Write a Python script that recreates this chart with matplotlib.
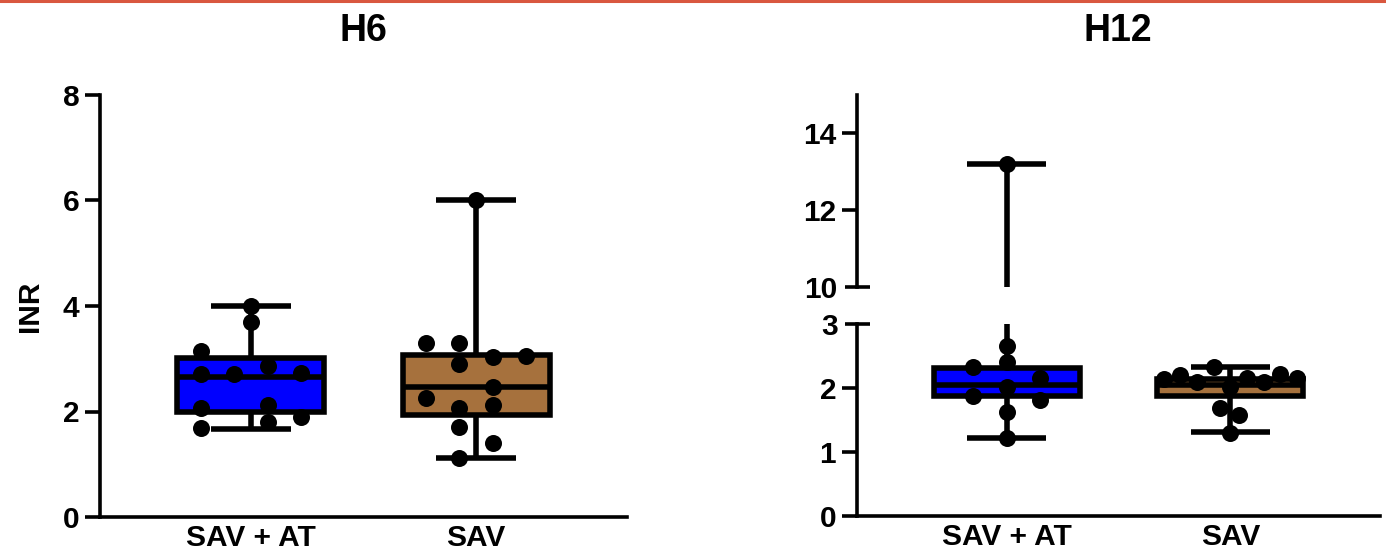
import matplotlib
matplotlib.use("Agg")
import matplotlib.pyplot as plt
from matplotlib.lines import Line2D
from matplotlib.ticker import FixedLocator, FixedFormatter

plt.rcParams['font.family'] = ['Liberation Sans', 'DejaVu Sans']
plt.rcParams['font.weight'] = 'bold'

# ---------------- data ----------------
groups = ["SAV + AT", "SAV"]
box_colors = ["#0000FF", "#A6713D"]

# H6 box statistics (per group)
h6_q1 = [2.00, 1.93]
h6_med = [2.65, 2.46]
h6_q3 = [3.02, 3.07]
h6_lo = [1.67, 1.12]
h6_hi = [4.00, 6.00]

# H6 points: values and scatter column offsets
h6_sav_at = [4.0, 3.7, 3.15, 2.72, 2.72, 2.87, 2.73, 2.07, 2.12, 1.80, 1.90, 1.68]
h6_sav_at_col = [0, 0, -1.5, -1.5, -0.5, 0.5, 1.5, -1.5, 0.5, 0.5, 1.5, -1.5]
h6_sav = [6.0, 3.3, 3.3, 2.9, 3.03, 3.05, 2.46, 2.26, 2.07, 2.12, 1.71, 1.40, 1.12]
h6_sav_col = [0, -1.5, -0.5, -0.5, 0.5, 1.5, 0.5, -1.5, -0.5, 0.5, -0.5, 0.5, -0.5]

# H12 box statistics
h12_q1 = [1.88, 1.87]
h12_med = [2.05, 2.04]
h12_q3 = [2.31, 2.14]
h12_lo = [1.22, 1.31]
h12_hi = [13.2, 2.33]

# H12 points
h12_sav_at = [13.2, 2.65, 2.40, 2.33, 2.02, 2.15, 1.88, 1.82, 1.63, 1.22]
h12_sav_at_col = [0, 0, 0, -1, 0, 1, -1, 1, 0, 0]
h12_sav = [2.14, 2.20, 2.10, 2.33, 2.02, 2.15, 2.09, 2.22, 2.15, 1.68, 1.58, 1.30]
h12_sav_col = [-2, -1.5, -1, -0.5, 0, 0.5, 1, 1.5, 2, -0.3, 0.25, 0]

h6_ticks = [0, 2, 4, 6, 8]
h12_low_ticks = [0, 1, 2]
h12_low_break = [3]
h12_up_ticks = [12, 14]
h12_up_break = [10]

# ---------------- style ----------------
COL_STEP = 0.149
LW = 4.0
SPINE_LW = 2.6
TICK_FS = 21.5
XLAB_FS = 21.5
MS = 150

fig = plt.figure(figsize=(13.86, 5.53), dpi=100)
W, H = 1386, 553
axL = fig.add_axes([100 / W, 36 / H, 527 / W, 422 / H])
axU = fig.add_axes([857 / W, 266 / H, 523 / W, 192 / H])
axD = fig.add_axes([857 / W, 37 / H, 523 / W, 192 / H])


def draw_boxes(ax, q1, med, q3, lo, hi):
    stats = []
    for i in range(len(groups)):
        stats.append(dict(q1=q1[i], med=med[i], q3=q3[i], whislo=lo[i], whishi=hi[i], fliers=[]))
    bp = ax.bxp(stats, positions=range(len(groups)), widths=0.653, capwidths=0.355,
                patch_artist=True, showfliers=False,
                boxprops=dict(edgecolor='black', linewidth=LW),
                whiskerprops=dict(color='black', linewidth=LW, solid_capstyle='butt'),
                capprops=dict(color='black', linewidth=LW, solid_capstyle='butt'),
                medianprops=dict(color='black', linewidth=LW, solid_capstyle='butt'),
                zorder=2)
    for patch, c in zip(bp['boxes'], box_colors):
        patch.set_facecolor(c)
        patch.set_joinstyle('miter')


def draw_points(ax, vals, cols, pos):
    xs = [pos + c * COL_STEP for c in cols]
    ax.scatter(xs, vals, s=MS, color='black', zorder=3, linewidths=0)


def style_axis(ax, bottom=True):
    for s in ['top', 'right']:
        ax.spines[s].set_visible(False)
    ax.spines['left'].set_linewidth(SPINE_LW)
    ax.spines['bottom'].set_linewidth(SPINE_LW)
    if not bottom:
        ax.spines['bottom'].set_visible(False)
    ax.tick_params(axis='y', direction='out', length=11, width=SPINE_LW,
                   labelsize=TICK_FS, pad=4)
    ax.set_xlim(-0.67, 1.67)
    if bottom:
        ax.set_xticks(range(len(groups)))
        ax.set_xticklabels(groups, fontsize=XLAB_FS, fontweight='bold')
        ax.tick_params(axis='x', length=0, pad=5)
    else:
        ax.set_xticks([])


# Left panel H6
draw_boxes(axL, h6_q1, h6_med, h6_q3, h6_lo, h6_hi)
draw_points(axL, h6_sav_at, h6_sav_at_col, 0)
draw_points(axL, h6_sav, h6_sav_col, 1)
style_axis(axL)
axL.set_ylim(0, 8)
axL.set_yticks(h6_ticks)
axL.set_ylabel("INR", fontsize=XLAB_FS, fontweight='bold', labelpad=13)

# Right panel H12 (broken axis)
for ax in (axU, axD):
    draw_boxes(ax, h12_q1, h12_med, h12_q3, h12_lo, h12_hi)
    draw_points(ax, h12_sav_at, h12_sav_at_col, 0)
    draw_points(ax, h12_sav, h12_sav_col, 1)

style_axis(axU, bottom=False)
axU.set_ylim(10, 15)
axU.set_yticks(h12_up_ticks)
axU.yaxis.set_minor_locator(FixedLocator(h12_up_break))
axU.yaxis.set_minor_formatter(FixedFormatter([str(v) for v in h12_up_break]))
axU.tick_params(axis='y', which='minor', direction='inout', length=18, width=SPINE_LW,
                labelsize=TICK_FS, pad=5)

style_axis(axD)
axD.set_ylim(0, 3)
axD.set_yticks(h12_low_ticks)
axD.yaxis.set_minor_locator(FixedLocator(h12_low_break))
axD.yaxis.set_minor_formatter(FixedFormatter([str(v) for v in h12_low_break]))
axD.tick_params(axis='y', which='minor', direction='inout', length=18, width=SPINE_LW,
                labelsize=TICK_FS, pad=5)

for ax in (axL, axU, axD):
    for lab in ax.get_yticklabels(which='both'):
        lab.set_fontweight('bold')

fig.text(363 / W, 1 - 31 / H, "H6", ha='center', va='center', fontsize=27, fontweight='bold')
fig.text(1118 / W, 1 - 31 / H, "H12", ha='center', va='center', fontsize=27, fontweight='bold')

# thin red border line at the very top
fig.add_artist(Line2D([0, 1], [1 - 1.2 / H, 1 - 1.2 / H], transform=fig.transFigure,
                      color='#D9573F', linewidth=2.2))

fig.savefig("out.png", dpi=100)
